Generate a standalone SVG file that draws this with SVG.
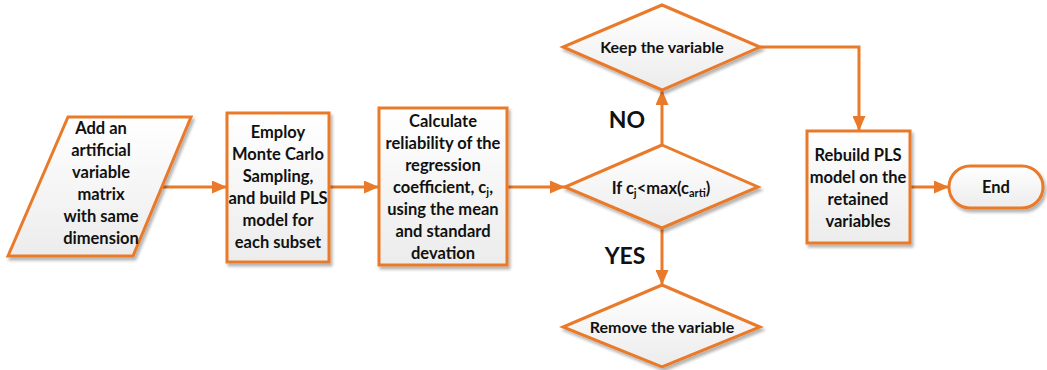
<svg xmlns="http://www.w3.org/2000/svg" width="1047" height="370" viewBox="0 0 1047 370">
  <defs>
    <linearGradient id="fill" x1="0" y1="0" x2="0" y2="1">
      <stop offset="0" stop-color="#ffffff"/>
      <stop offset="1" stop-color="#ececec"/>
    </linearGradient>
    <filter id="shadow" x="-10%" y="-10%" width="125%" height="125%">
      <feGaussianBlur in="SourceAlpha" stdDeviation="1.5"/>
      <feOffset dx="2" dy="2.5" result="b"/>
      <feComponentTransfer><feFuncA type="linear" slope="0.3"/></feComponentTransfer>
      <feMerge><feMergeNode/><feMergeNode in="SourceGraphic"/></feMerge>
    </filter>
    <marker id="arrow" markerWidth="15" markerHeight="13" refX="15" refY="6.5" orient="auto" markerUnits="userSpaceOnUse">
      <path d="M0,0 L15,6.5 L0,13 Z" fill="#E97A2A"/>
    </marker>
  </defs>
  <style>
    .shape { fill: url(#fill); stroke: #E97A2A; stroke-width: 3; filter: url(#shadow); stroke-linejoin: miter; }
    .link { fill: none; stroke: #E97A2A; stroke-width: 3; }
    text { font-family: Lato, "Liberation Sans", sans-serif; font-weight: bold; font-size: 16.5px; fill: #111; text-anchor: middle; }
    .label { font-size: 23px; }
    .small { font-size: 16px; }
    .sub { font-size: 11px; }
  </style>

  <g id="connectors">
    <line class="link" x1="162" y1="187" x2="227" y2="187" marker-end="url(#arrow)"/>
    <line class="link" x1="329" y1="187" x2="379" y2="187" marker-end="url(#arrow)"/>
    <line class="link" x1="507" y1="187" x2="565" y2="187" marker-end="url(#arrow)"/>
    <line class="link" x1="662" y1="145" x2="662" y2="90" marker-end="url(#arrow)"/>
    <line class="link" x1="662" y1="228" x2="662" y2="285" marker-end="url(#arrow)"/>
    <polyline class="link" points="760,47 859,47 859,131" marker-end="url(#arrow)"/>
    <line class="link" x1="910" y1="187" x2="949" y2="187" marker-end="url(#arrow)"/>
    <text class="label" x="627" y="128">NO</text>
    <text class="label" x="625" y="264">YES</text>
  </g>

  <g id="input">
    <polygon class="shape" points="68,117 191,117 133,256 8,256"/>
    <text x="101" y="134">Add an</text>
    <text x="101" y="156">artificial</text>
    <text x="101" y="178">variable</text>
    <text x="101" y="200">matrix</text>
    <text x="101" y="222">with same</text>
    <text x="101" y="244">dimension</text>
  </g>

  <g id="sampling">
    <rect class="shape" x="227" y="113" width="102" height="149"/>
    <text x="278" y="138">Employ</text>
    <text x="278" y="160">Monte Carlo</text>
    <text x="278" y="182">Sampling,</text>
    <text x="278" y="204">and build PLS</text>
    <text x="278" y="226">model for</text>
    <text x="278" y="248">each subset</text>
  </g>

  <g id="reliability">
    <rect class="shape" x="379" y="108" width="128" height="157"/>
    <text x="443" y="127">Calculate</text>
    <text x="443" y="149">reliability of the</text>
    <text x="443" y="171">regression</text>
    <text x="443" y="193">coefficient, c<tspan class="sub" dy="3">j</tspan><tspan dy="-3">,</tspan></text>
    <text x="443" y="215">using the mean</text>
    <text x="443" y="237">and standard</text>
    <text x="443" y="259">devation</text>
  </g>

  <g id="decision">
    <polygon class="shape" points="662,145 758,187 662,228 565,187"/>
    <text x="661" y="194">If c<tspan class="sub" dy="3">j</tspan><tspan dy="-3">&lt;max(c</tspan><tspan class="sub" dy="3">arti</tspan><tspan dy="-3">)</tspan></text>
  </g>

  <g id="keep">
    <polygon class="shape" points="662,5 760,47 662,90 563,47"/>
    <text class="small" x="662" y="53">Keep the variable</text>
  </g>

  <g id="remove">
    <polygon class="shape" points="662,285 760,327 662,367 563,327"/>
    <text class="small" x="662" y="333">Remove the variable</text>
  </g>

  <g id="rebuild">
    <rect class="shape" x="807" y="131" width="103" height="112"/>
    <text x="858" y="161">Rebuild PLS</text>
    <text x="858" y="183">model on the</text>
    <text x="858" y="205">retained</text>
    <text x="858" y="227">variables</text>
  </g>

  <g id="end">
    <rect class="shape" x="949" y="166" width="94" height="42" rx="21" ry="21"/>
    <text x="996" y="193">End</text>
  </g>
</svg>
